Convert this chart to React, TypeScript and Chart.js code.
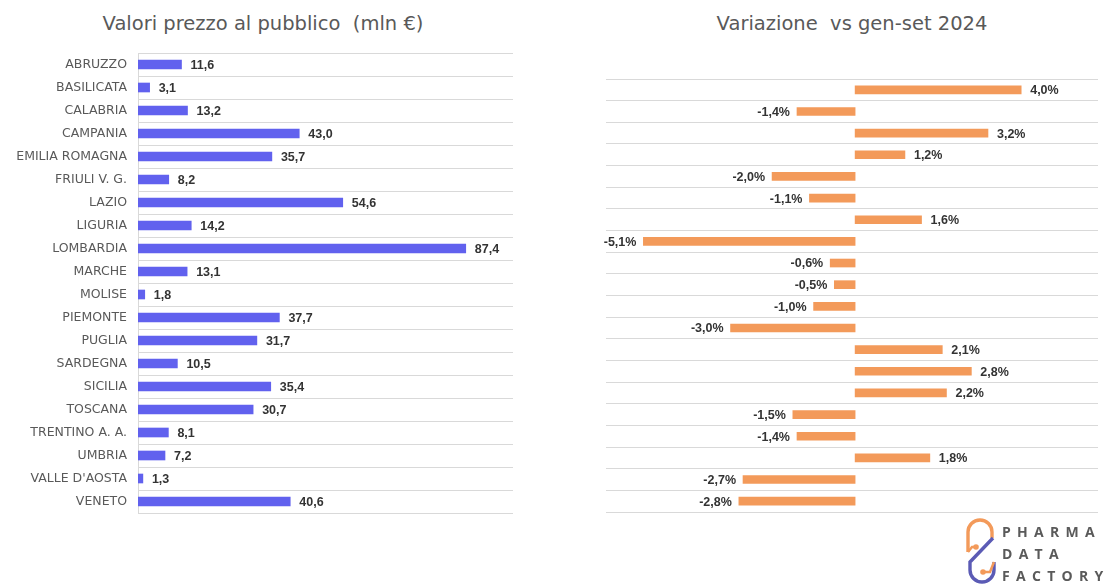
import React, { useEffect, useRef } from "react";
import { Chart, registerables } from "chart.js";

Chart.register(...registerables);

const categories = [
  "ABRUZZO", "BASILICATA", "CALABRIA", "CAMPANIA", "EMILIA ROMAGNA",
  "FRIULI V. G.", "LAZIO", "LIGURIA", "LOMBARDIA", "MARCHE",
  "MOLISE", "PIEMONTE", "PUGLIA", "SARDEGNA", "SICILIA",
  "TOSCANA", "TRENTINO A. A.", "UMBRIA", "VALLE D'AOSTA", "VENETO",
];
const valori = [11.6, 3.1, 13.2, 43.0, 35.7, 8.2, 54.6, 14.2, 87.4, 13.1, 1.8, 37.7, 31.7, 10.5, 35.4, 30.7, 8.1, 7.2, 1.3, 40.6];
const variazione = [4.0, -1.4, 3.2, 1.2, -2.0, -1.1, 1.6, -5.1, -0.6, -0.5, -1.0, -3.0, 2.1, 2.8, 2.2, -1.5, -1.4, 1.8, -2.7, -2.8];

const titleLeft = "Valori prezzo al pubblico  (mln €)";
const titleRight = "Variazione  vs gen-set 2024";

const FONT = "'DejaVu Sans', sans-serif";
const LABEL_FONT = "'Liberation Sans', Arial, sans-serif";
const GRID = "#d9d9d9";

const fmtVal = (v: number) => v.toFixed(1).replace(".", ",");
const fmtPct = (v: number) => v.toFixed(1).replace(".", ",") + "%";

function labelPlugin(fmt: (v: number) => string) {
  return {
    id: "valueLabels",
    afterDatasetsDraw(chart: any) {
      const ctx = chart.ctx;
      const meta = chart.getDatasetMeta(0);
      const data = chart.data.datasets[0].data as number[];
      ctx.save();
      ctx.font = "bold 12.5px " + LABEL_FONT;
      ctx.fillStyle = "#333333";
      ctx.textBaseline = "middle";
      meta.data.forEach((el: any, i: number) => {
        const v = data[i];
        const p = el.getProps(["x", "y", "base"], true);
        if (v >= 0) {
          ctx.textAlign = "left";
          ctx.fillText(fmt(v), p.x + 9, p.y + 1);
        } else {
          ctx.textAlign = "right";
          ctx.fillText(fmt(v), p.x - 7, p.y + 1);
        }
      });
      ctx.restore();
    },
  };
}

function LeftChart() {
  const ref = useRef<HTMLCanvasElement>(null);
  useEffect(() => {
    const chart = new Chart(ref.current!, {
      type: "bar",
      data: {
        labels: categories,
        datasets: [{ data: valori, backgroundColor: "#6161ee", barThickness: 9 }],
      },
      options: {
        indexAxis: "y",
        animation: false,
        responsive: false,
        devicePixelRatio: 1,
        layout: { padding: { top: 53, bottom: 73, left: 0, right: 7 } },
        plugins: { legend: { display: false }, tooltip: { enabled: false } },
        scales: {
          x: { display: false, min: 0, max: 100 },
          y: {
            afterFit: (s: any) => { s.width = 138; },
            grid: { offset: true, color: GRID, drawTicks: false },
            border: { display: true, color: GRID },
            ticks: { padding: 11, color: "#595959", font: { family: FONT, size: 12.5 } },
          },
        },
      },
      plugins: [labelPlugin(fmtVal)],
    } as any);
    return () => chart.destroy();
  }, []);
  return <canvas ref={ref} width={520} height={586} style={{ position: "absolute", left: 0, top: 0, width: 520, height: 586 }} />;
}

function RightChart() {
  const ref = useRef<HTMLCanvasElement>(null);
  useEffect(() => {
    const chart = new Chart(ref.current!, {
      type: "bar",
      data: {
        labels: categories,
        datasets: [{ data: variazione, backgroundColor: "#f39a5a", barThickness: 8 }],
      },
      options: {
        indexAxis: "y",
        animation: false,
        responsive: false,
        devicePixelRatio: 1,
        layout: { padding: { top: 79, bottom: 74, left: 26, right: 7 } },
        plugins: { legend: { display: false }, tooltip: { enabled: false } },
        scales: {
          x: { display: false, min: -6, max: 5.85 },
          y: {
            afterFit: (s: any) => { s.width = 0; },
            grid: { offset: true, color: GRID, drawTicks: false },
            border: { display: false },
            ticks: { display: false },
          },
        },
      },
      plugins: [labelPlugin(fmtPct)],
    } as any);
    return () => chart.destroy();
  }, []);
  return <canvas ref={ref} width={525} height={586} style={{ position: "absolute", left: 580, top: 0, width: 525, height: 586 }} />;
}

function Logo() {
  const letter: React.CSSProperties = {
    position: "absolute",
    left: 1002,
    fontFamily: "'Open Sans', sans-serif",
    fontWeight: 700,
    fontSize: 14,
    letterSpacing: 6.3,
    color: "#5a5a5a",
    lineHeight: "14px",
    whiteSpace: "pre",
  };
  return (
    <>
      <svg width={40} height={70} viewBox="0 0 40 70" style={{ position: "absolute", left: 960, top: 516 }}>
        <path d="M8 36 L8 16 A12 12 0 0 1 32 16 L32 22" fill="none" stroke="#f39a5a" strokeWidth={3.4} />
        <path d="M8 36 L12 31 L16 31" fill="none" stroke="#f39a5a" strokeWidth={2.5} />
        <circle cx={16} cy={31} r={2.8} fill="#f39a5a" />
        <path d="M33 22 L10 46 L10 54 A12 12 0 0 0 34 54 L34 46" fill="none" stroke="#5b5bb5" strokeWidth={3.4} />
        <path d="M34 46 L30 56 L24 56" fill="none" stroke="#f39a5a" strokeWidth={2.5} />
        <circle cx={23} cy={56} r={2.8} fill="#f39a5a" />
      </svg>
      <div style={{ ...letter, top: 525 }}>PHARMA</div>
      <div style={{ ...letter, top: 547 }}>DATA</div>
      <div style={{ ...letter, top: 569 }}>FACTORY</div>
    </>
  );
}

export default function App() {
  useEffect(() => {
    document.body.style.margin = "0";
  }, []);
  const titleStyle: React.CSSProperties = {
    position: "absolute",
    top: 10,
    fontFamily: FONT,
    fontSize: 19.5,
    color: "#595959",
    whiteSpace: "pre",
    transform: "translateX(-50%)",
    lineHeight: "28px",
  };
  return (
    <div style={{ position: "relative", width: 1120, height: 586, background: "#fff", overflow: "hidden" }}>
      <div style={{ ...titleStyle, left: 263 }}>{titleLeft}</div>
      <div style={{ ...titleStyle, left: 852 }}>{titleRight}</div>
      <LeftChart />
      <RightChart />
      <Logo />
    </div>
  );
}
